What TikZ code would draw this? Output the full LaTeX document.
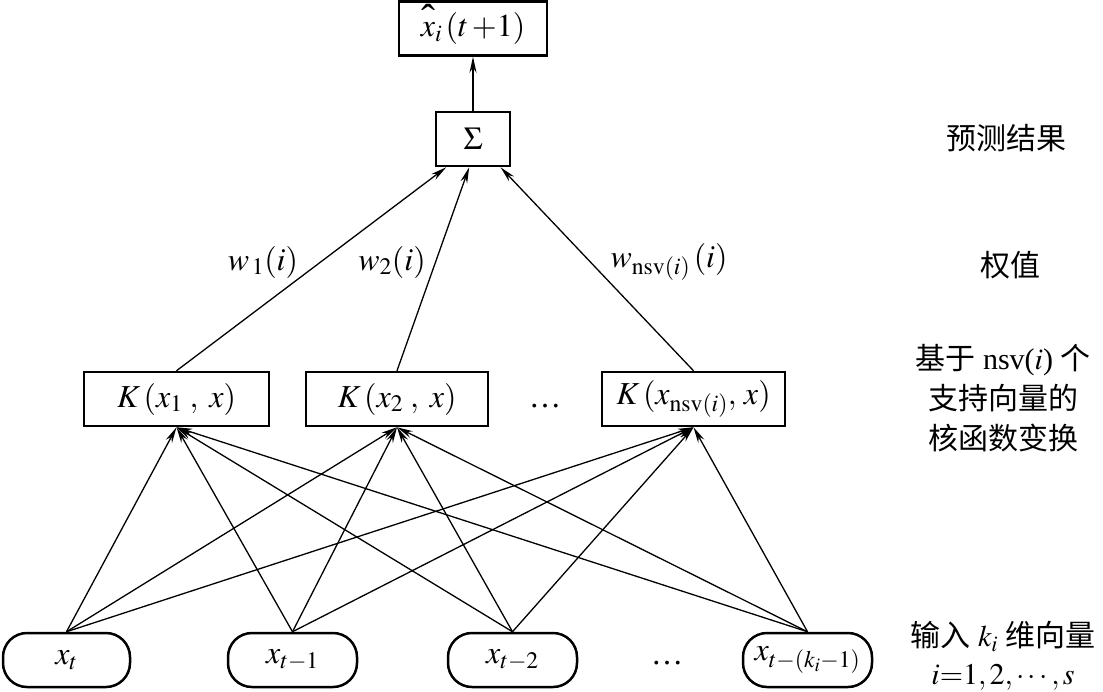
\documentclass[tikz,border=0pt]{standalone}
\usepackage{mathptmx}
\usepackage[no-math]{fontspec}
\setmainfont{Liberation Serif}
\newfontfamily\cjk{Noto Sans CJK SC}
\usetikzlibrary{arrows.meta,calc}
\newcommand{\bigfs}{\fontsize{32}{38}\selectfont}
\newcommand{\cjkfs}{\fontsize{30}{36}\selectfont}
\newcommand{\mycaret}{\rlap{\smash{\raisebox{3pt}{\kern1pt\fontsize{42}{42}\selectfont ˆ}}}}
\tikzset{
  box/.style={draw, line width=2.5pt, minimum height=54pt, inner sep=0pt, font=\bigfs},
  inbox/.style={draw, line width=2.5pt, rounded corners=24pt, minimum height=54pt, inner sep=0pt, font=\bigfs},
  conn/.style={line width=1.3pt, -{Stealth[length=16pt,width=7pt]}},
  lab/.style={font=\bigfs, inner sep=0pt},
  cjklab/.style={font=\cjkfs\cjk, inner sep=0pt, align=center}
}
\begin{document}
\begin{tikzpicture}[x=1pt,y=-1pt]
\path[use as bounding box] (0,0) rectangle (1103,691);
% top output and sum
\node[box, minimum width=148pt] (out) at (473,28.5) {\raisebox{-2pt}{\mycaret$x_i\,(t\,{+}1)$}};
\node[box, minimum width=74pt, minimum height=54pt] (sig) at (473,139) {$\Sigma$};
% kernel boxes
\node[box, minimum width=185pt] (k1) at (176.5,399) {$K\,(x_{1}\;,\;x)$};
\node[box, minimum width=182pt] (k2) at (397,399) {$K\,(x_{2}\;,\;x)$};
\node[lab] (kd) at (545,399) {$\vphantom{K(x)}$\ldots};
\node[box, minimum width=183pt] (k3) at (693.5,399) {$K\,(x_{\mathrm{nsv}(i)},\,x)$};
% inputs
\node[inbox, minimum width=127pt] (n1) at (66.5,660) {$x_t$};
\node[inbox, minimum width=129pt] (n2) at (292.5,660) {$x_{t-1}$};
\node[inbox, minimum width=129pt] (n3) at (512.5,660) {$x_{t-2}$};
\node[lab] (nd) at (667,660) {$\vphantom{x_t}$\ldots};
\node[inbox, minimum width=129pt] (n4) at (807.5,660) {$x_{t-(k_i-1)}$};
% sigma attach points
\coordinate (s1) at ($(sig.south west)!0.15!(sig.south east)$);
\coordinate (s2) at ($(sig.south west)!0.45!(sig.south east)$);
\coordinate (s3) at ($(sig.south west)!0.86!(sig.south east)$);
% connectors
\draw[conn] (sig.north) -- (out.south);
\draw[conn] (k1.north) -- (s1);
\draw[conn] (k2.north) -- (s2);
\draw[conn] (k3.north) -- (s3);
\foreach \n in {n1,n2,n3,n4}{
  \foreach \k in {k1,k2,k3}{
    \draw[conn] (\n.north) -- (\k.south);
  }
}
% weight labels
\node[lab] (w1) at (263,262) {$w_{\,1}(i)$};
\node[lab] (w2) at (392,262) {$w_2(i)$};
\node[lab] (w3) at (669,262) {$w_{\mathrm{nsv}(i)}\,(i)$};
% right labels
\node[cjklab] (r1) at (1006,138) {预测结果};
\node[cjklab, font=\cjkfs, execute at begin node={\baselineskip=40pt}] (r3) at (1003,398) {{\cjk 基于} nsv($i$) {\cjk 个}\\{\cjk 支持向量的}\\{\cjk 核函数变换}};
\node[cjklab] (r2) at (1010,265) {权值};
\node[cjklab, font=\cjkfs, execute at begin node={\baselineskip=38pt}] (r4) at (1003,656) {{\cjk 输入} $k_i$ {\cjk 维向量}\\$i{=}1,2,\cdots,s$};
\end{tikzpicture}
\end{document}
